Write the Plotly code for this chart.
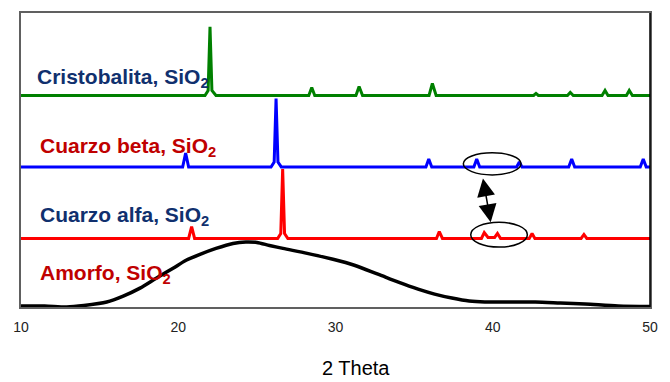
import plotly.graph_objects as go

# ---- data ----
x_ticks = [10, 20, 30, 40, 50]
tick_labels = ["10", "20", "30", "40", "50"]

# Cristobalita (stacked intensity, arbitrary units)
x_cristobalita = [10.0, 21.70, 21.90, 22.02, 22.14, 22.40, 28.30, 28.49, 28.68, 31.30, 31.50, 31.72,
                  35.95, 36.16, 36.40, 42.60, 42.75, 42.90, 44.75, 44.93, 45.12, 46.95, 47.14, 47.33,
                  48.50, 48.68, 48.88, 50.0]
y_cristobalita = [213, 213, 218, 282, 218, 213, 213, 221, 213, 213, 222, 213,
                  213, 225, 213, 213, 215, 213, 213, 216, 213, 213, 218, 213,
                  213, 218, 213, 213]

# Cuarzo beta
x_beta = [10.0, 20.28, 20.47, 20.66, 25.90, 26.10, 26.22, 26.34, 26.55, 35.75, 35.93, 36.12,
          38.80, 38.98, 39.17, 41.52, 41.69, 41.86, 44.83, 45.02, 45.21, 49.38, 49.57, 49.76, 50.0]
y_beta = [141, 141, 155, 141, 141, 146, 210, 146, 141, 141, 149, 141,
          141, 149, 141, 141, 146, 141, 141, 149, 141, 141, 149, 141, 141]

# Cuarzo alfa
x_alfa = [10.0, 20.66, 20.85, 21.04, 26.32, 26.52, 26.64, 26.76, 26.97, 36.42, 36.60, 36.80,
          39.28, 39.46, 39.70, 40.12, 40.30, 40.50, 42.32, 42.50, 42.68, 45.62, 45.80, 45.98, 50.0]
y_alfa = [69, 69, 81, 69, 69, 74, 139, 74, 69, 69, 76, 69,
          69, 75, 70, 70, 74, 69, 69, 74, 69, 69, 73, 69, 69]

# Amorfo
x_amorfo = [10.0, 11.5, 12.9, 14.0, 15.45, 16.5, 17.57, 18.6, 19.67, 20.5, 21.38, 22.4, 23.48,
            24.3, 25.0, 25.8, 26.66, 28.2, 29.84, 31.2, 32.7, 34.0, 35.25, 36.3, 37.4, 38.5,
            39.5, 41.0, 42.7, 44.3, 45.87, 47.97, 50.0]
y_amorfo = [1, 1, 0, 1.5, 5, 11, 19, 29, 39, 47, 53, 59, 64,
            65.5, 65, 62, 59, 54, 48, 42, 33, 25, 18, 13, 9, 6,
            5, 5, 5, 4, 3, 1, 0.5]

labels = ["Cristobalita, SiO<sub>2</sub>", "Cuarzo beta, SiO<sub>2</sub>",
          "Cuarzo alfa, SiO<sub>2</sub>", "Amorfo, SiO<sub>2</sub>"]
label_x = [10.92, 11.11, 11.11, 11.11]
label_y = [231, 161, 92, 33]
label_colors = ["#10306E", "#C00000", "#10306E", "#C00000"]

FONT = "Arial, Liberation Sans, sans-serif"

fig = go.Figure()
fig.add_trace(go.Scatter(x=x_amorfo, y=y_amorfo, mode="lines", line=dict(color="black", width=3.5, shape="spline", smoothing=0.8)))
fig.add_trace(go.Scatter(x=x_alfa, y=y_alfa, mode="lines", line=dict(color="#FF0000", width=3)))
fig.add_trace(go.Scatter(x=x_beta, y=y_beta, mode="lines", line=dict(color="#0000FF", width=3)))
fig.add_trace(go.Scatter(x=x_cristobalita, y=y_cristobalita, mode="lines", line=dict(color="#008000", width=3)))

for t, lx, ly, c in zip(labels, label_x, label_y, label_colors):
    fig.add_annotation(x=lx, y=ly, xref="x", yref="y", text="<b>" + t + "</b>", showarrow=False,
                       xanchor="left", yanchor="middle", font=dict(family=FONT, size=21, color=c))

# ellipses
fig.add_shape(type="circle", xref="x", yref="y", x0=38.13, x1=41.80, y0=133, y1=155.3,
              line=dict(color="black", width=1.5))
fig.add_shape(type="circle", xref="x", yref="y", x0=38.60, x1=42.20, y0=60.3, y1=85.3,
              line=dict(color="black", width=1.5))
# right border (black)
fig.add_shape(type="line", xref="paper", yref="paper", x0=1, x1=1, y0=0, y1=1,
              line=dict(color="black", width=1.5))

# double-headed arrow
fig.add_annotation(x=39.87, y=85.3, ax=39.36, ay=131, xref="x", yref="y", axref="x", ayref="y",
                   text="", showarrow=True, arrowhead=2, startarrowhead=2, arrowside="end+start",
                   arrowsize=2.4, startarrowsize=2.4, arrowwidth=1.5, arrowcolor="black",
                   standoff=0, startstandoff=0)

# x-axis title
fig.add_annotation(x=0.5326, y=-0.2534, xref="paper", yref="paper", text="2 Theta", showarrow=False,
                   xanchor="center", yanchor="bottom", font=dict(family=FONT, size=20, color="black"))

fig.update_layout(
    width=662, height=374,
    margin=dict(l=13, r=20, t=3, b=75),
    paper_bgcolor="white", plot_bgcolor="white",
    showlegend=False,
    font=dict(family=FONT),
    xaxis=dict(range=[10, 50], tickvals=x_ticks, ticktext=tick_labels, showgrid=False, zeroline=False,
               showline=True, linecolor="#606060", linewidth=1.5, mirror=True,
               ticks="outside", ticklen=6, tickcolor="rgba(0,0,0,0)",
               tickfont=dict(family=FONT, size=14, color="#222222")),
    yaxis=dict(range=[0, 296], showticklabels=False, showgrid=False, zeroline=False,
               showline=True, linecolor="#606060", linewidth=1.5, mirror=True, ticks=""),
)

fig.write_html("out.html")
